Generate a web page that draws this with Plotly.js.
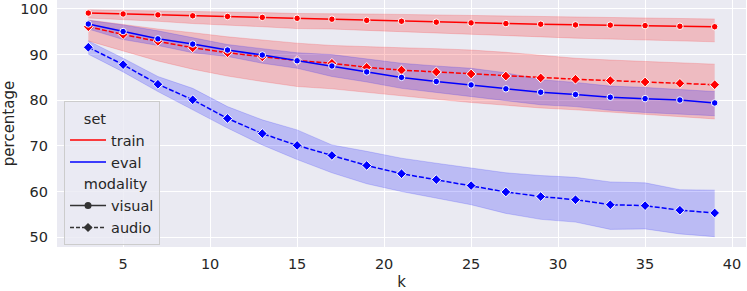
<!DOCTYPE html>
<html>
<head>
<meta charset="utf-8">
<script src="https://cdn.plot.ly/plotly-3.0.1.min.js"></script>
<style>html,body{margin:0;padding:0;background:#fff;}#chart{width:747px;height:291px;}</style>
</head>
<body>
<div id="chart"></div>
<script>
const k = [3,5,7,9,11,13,15,17,19,21,23,25,27,29,31,33,35,37,39];

const trainVisual      = [99.1,98.9,98.7,98.5,98.35,98.15,97.95,97.75,97.5,97.3,97.1,96.95,96.8,96.65,96.5,96.45,96.35,96.2,96.1];
const trainVisualLow   = [98.0,97.7,97.3,96.8,96.5,96.1,95.7,95.6,95.3,95.0,94.7,94.4,94.1,93.8,93.6,93.4,93.2,93.0,92.8];
const trainVisualHigh  = [99.8,99.7,99.6,99.4,99.3,99.2,99.0,99.0,98.9,98.8,98.7,98.6,98.4,98.3,98.2,98.1,98.0,97.9,97.8];

const trainAudio       = [96.1,94.4,92.9,91.5,90.4,89.5,88.7,88.1,87.2,86.6,86.2,85.75,85.3,84.9,84.6,84.3,84.0,83.7,83.4];
const trainAudioLow    = [93.0,90.8,88.6,86.8,85.3,84.1,83.0,82.5,81.7,80.9,80.2,79.5,78.9,78.3,77.9,77.4,77.0,76.5,75.9];
const trainAudioHigh   = [97.6,96.6,95.6,94.8,93.9,93.2,92.5,92.0,91.7,91.5,91.3,91.0,90.5,89.8,89.2,88.8,88.5,88.2,87.9];

const evalVisual       = [96.7,95.05,93.45,92.3,91.0,89.9,88.65,87.5,86.2,85.0,84.1,83.35,82.5,81.75,81.25,80.65,80.35,80.05,79.4];
const evalVisualLow    = [95.6,93.3,92.0,90.4,89.6,88.1,87.0,85.2,84.0,82.6,81.7,80.8,79.9,79.0,78.6,77.8,77.3,76.9,76.6];
const evalVisualHigh   = [97.5,96.5,95.2,93.7,92.2,91.3,90.4,90.0,89.0,88.1,87.5,87.0,86.0,84.5,83.9,83.1,82.8,82.4,81.9];

const evalAudio        = [91.6,87.8,83.5,80.1,76.0,72.7,70.1,67.9,65.7,63.9,62.6,61.3,59.9,58.9,58.2,57.1,56.9,55.9,55.3];
const evalAudioLow     = [90.1,86.2,81.9,77.9,73.9,70.2,67.0,64.1,61.7,60.0,58.6,57.1,55.2,53.9,53.3,51.7,51.8,50.7,50.1];
const evalAudioHigh    = [93.0,89.2,85.2,82.6,78.6,75.7,73.5,70.2,68.8,67.3,66.2,65.2,64.1,63.5,63.1,62.1,61.9,60.4,60.3];

const xTicks = [5,10,15,20,25,30,35,40];
const yTicks = [50,60,70,80,90,100];

const RED = '#ff0000', BLUE = '#0000ff';
const RED_A = 'rgba(255,0,0,0.2)', BLUE_A = 'rgba(0,0,255,0.2)';
const TXT = '#262626';

function band(lo, hi, fillc) {
  return [
    {x: k, y: lo, mode: 'lines', line: {width: 0.8, color: fillc}, showlegend: false, hoverinfo: 'skip'},
    {x: k, y: hi, mode: 'lines', line: {width: 0.8, color: fillc}, fill: 'tonexty', fillcolor: fillc, showlegend: false, hoverinfo: 'skip'}
  ];
}
function line(y, color, dash, symbol) {
  return {x: k, y: y, mode: 'lines+markers', showlegend: false,
    line: {color: color, width: 1.5, dash: dash},
    marker: {symbol: symbol, size: symbol === 'circle' ? 6.5 : 7.5, color: color, line: {color: '#ffffff', width: 1}}};
}
function legendItem(name, group, gtitle, color, dash, symbol, mode) {
  return {x: [null], y: [null], name: name, legendgroup: group,
    legendgrouptitle: {text: gtitle, font: {size: 14.5, color: TXT}},
    mode: mode, line: {color: color, width: 1.5, dash: dash},
    marker: {symbol: symbol, size: 7, color: color}};
}

const G = '\u00a0\u00a0\u00a0';
const data = [
  ...band(trainVisualLow, trainVisualHigh, RED_A),
  ...band(trainAudioLow, trainAudioHigh, RED_A),
  ...band(evalVisualLow, evalVisualHigh, BLUE_A),
  ...band(evalAudioLow, evalAudioHigh, BLUE_A),
  line(trainVisual, RED, 'solid', 'circle'),
  line(trainAudio, RED, '5px,2px', 'diamond'),
  line(evalVisual, BLUE, 'solid', 'circle'),
  line(evalAudio, BLUE, '5px,2px', 'diamond'),
  legendItem('train', 'set', G + 'set', RED, 'solid', 'circle', 'lines'),
  legendItem('eval', 'set', G + 'set', BLUE, 'solid', 'circle', 'lines'),
  legendItem('visual', 'modality', G + 'modality', '#333333', 'solid', 'circle', 'lines+markers'),
  legendItem('audio', 'modality', G + 'modality', '#333333', '4px,2px', 'diamond', 'lines+markers')
];

const layout = {
  width: 747, height: 291,
  margin: {l: 57, r: 1, t: 0, b: 44},
  paper_bgcolor: '#ffffff',
  plot_bgcolor: '#eaeaf2',
  font: {family: 'DejaVu Sans, sans-serif', size: 14.5, color: TXT},
  xaxis: {
    range: [1.2, 40.8], tickvals: xTicks, ticktext: xTicks.map(String),
    showgrid: true, gridcolor: '#ffffff', gridwidth: 1, zeroline: false,
    showline: false, ticks: '', ticklabelstandoff: 6,
    title: {text: 'k', font: {size: 15, color: TXT}, standoff: 5}
  },
  yaxis: {
    range: [47.84, 101.96], tickvals: yTicks, ticktext: yTicks.map(String),
    showgrid: true, gridcolor: '#ffffff', gridwidth: 1, zeroline: false,
    showline: false, ticks: '', ticklabelstandoff: 8,
    title: {text: 'percentage', font: {size: 15, color: TXT}, standoff: 6}
  },
  showlegend: true,
  legend: {
    x: 0.0102, y: 0.59, xanchor: 'left', yanchor: 'top',
    bgcolor: 'rgba(234,234,242,0.8)', bordercolor: '#cccccc', borderwidth: 1,
    font: {size: 14.5, color: TXT}, traceorder: 'grouped', tracegroupgap: 0,
    itemwidth: 36
  }
};

Plotly.newPlot('chart', data, layout, {staticPlot: true, displayModeBar: false});
</script>
</body>
</html>
